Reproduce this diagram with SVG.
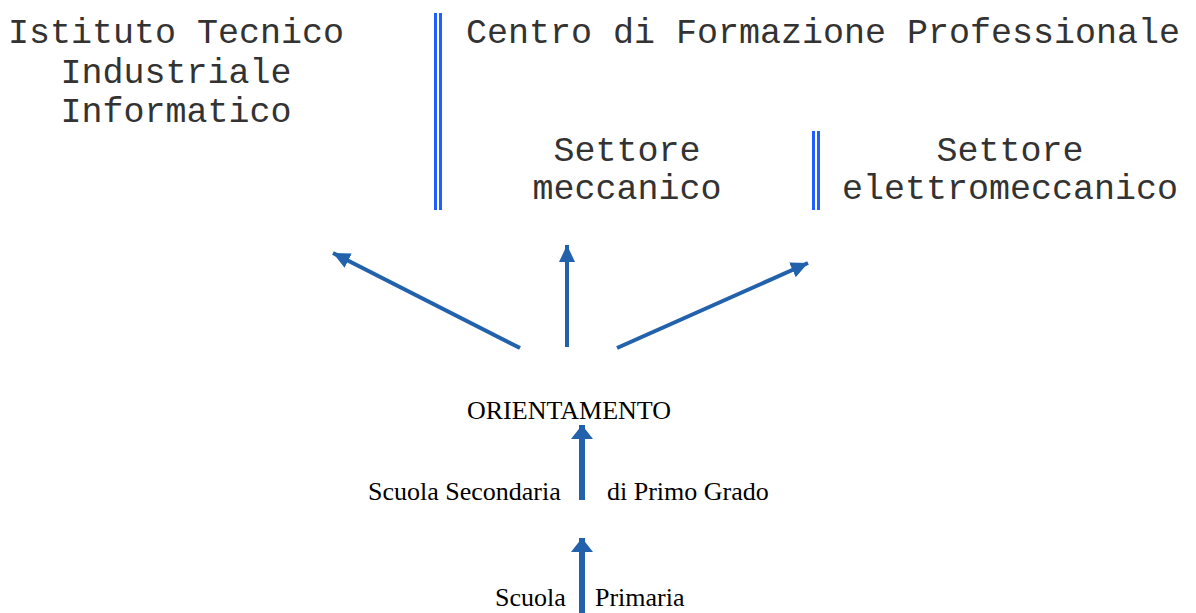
<svg xmlns="http://www.w3.org/2000/svg" width="1196" height="613" viewBox="0 0 1196 613">
<defs>
<style>
.mono{font-family:"Liberation Mono","Courier New",monospace;font-size:35px;fill:#333}
.serif{font-family:"Liberation Serif","Times New Roman",serif;font-size:26px;fill:#000}
.dbl{stroke:#1F5FFF;stroke-width:3}
.arr{stroke:#2261AC;stroke-width:4;fill:none}
.arrb{stroke:#2261AC;stroke-width:6;fill:none}
</style>
<marker id="ah" markerUnits="userSpaceOnUse" markerWidth="18" markerHeight="16" refX="17" refY="8" orient="auto">
<path d="M0,0 L17,8 L0,16 z" fill="#2261AC"/>
</marker>
<marker id="ahb" markerUnits="userSpaceOnUse" markerWidth="14" markerHeight="22" refX="14" refY="11" orient="auto">
<path d="M0,0 L14,11 L0,22 z" fill="#2261AC"/>
</marker>
</defs>
<rect width="1196" height="613" fill="#fff"/>
<g id="itis">
<text class="mono" x="176" y="43" text-anchor="middle">Istituto Tecnico</text>
<text class="mono" x="176" y="83" text-anchor="middle">Industriale</text>
<text class="mono" x="176" y="122" text-anchor="middle">Informatico</text>
</g>
<g id="cfp">
<line class="dbl" x1="435.5" y1="13" x2="435.5" y2="210"/>
<line class="dbl" x1="440.5" y1="13" x2="440.5" y2="210"/>
<text class="mono" x="466" y="43">Centro di Formazione Professionale</text>
</g>
<g id="meccanico">
<text class="mono" x="627" y="161" text-anchor="middle">Settore</text>
<text class="mono" x="627" y="199" text-anchor="middle">meccanico</text>
</g>
<g id="elettromeccanico">
<line class="dbl" x1="813.5" y1="131" x2="813.5" y2="210"/>
<line class="dbl" x1="818.5" y1="131" x2="818.5" y2="210"/>
<text class="mono" x="1010" y="161" text-anchor="middle">Settore</text>
<text class="mono" x="1010" y="199" text-anchor="middle">elettromeccanico</text>
</g>
<g id="orientamento">
<text class="serif" x="467" y="419">ORIENTAMENTO</text>
</g>
<g id="secondaria">
<text class="serif" x="368" y="500">Scuola Secondaria</text>
<text class="serif" x="607" y="500">di Primo Grado</text>
</g>
<g id="primaria">
<text class="serif" x="495" y="606">Scuola</text>
<text class="serif" x="595" y="606">Primaria</text>
</g>
<g id="connectors">
<line class="arr" x1="520" y1="348" x2="333" y2="253" marker-end="url(#ah)"/>
<line class="arr" x1="567" y1="347" x2="567" y2="245" marker-end="url(#ah)"/>
<line class="arr" x1="617" y1="348" x2="808" y2="263" marker-end="url(#ah)"/>
<line class="arrb" x1="582" y1="500" x2="582" y2="425" marker-end="url(#ahb)"/>
<line class="arrb" x1="582" y1="613" x2="582" y2="538" marker-end="url(#ahb)"/>
</g>
</svg>
